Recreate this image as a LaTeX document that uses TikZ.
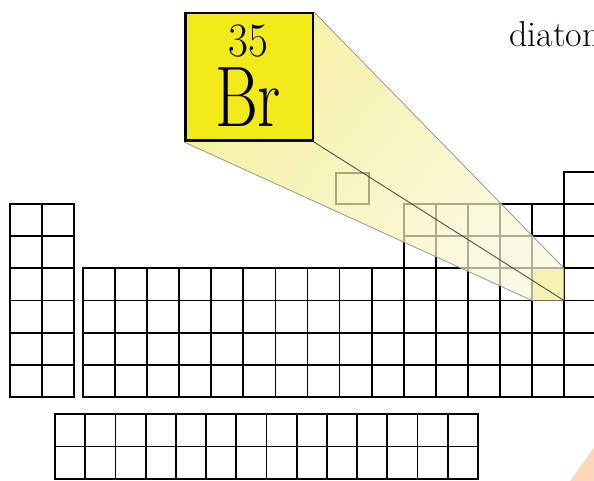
\documentclass[tikz,border=0pt]{standalone}
\usepackage{fontspec}
\usepackage{tikz}
\definecolor{bryellow}{RGB}{243,234,28}
\definecolor{beamnear}{RGB}{241,234,120}
\definecolor{beamfar}{RGB}{248,247,217}
\definecolor{cellyellow}{RGB}{248,233,80}
\definecolor{peach}{RGB}{251,214,186}

\begin{document}
\begin{tikzpicture}[x=1pt, y=-1pt,
  cell/.style={draw=black, line width=1.8pt},
  beamedge/.style={draw=black!45, line width=0.7pt},
  fold/.style={draw=black!75, line width=0.8pt}]
\clip (0,0) rectangle (594,481);
\fill[peach] (570,481) -- (600,439) -- (600,481) -- cycle;
\node[fill=cellyellow, minimum width=32.07pt, minimum height=32.17pt, inner sep=0pt, outer sep=0pt] (br) at (548.05,284.43) {};
\foreach \i in {0,1}
  \foreach \j in {0,...,5}
    \draw[cell] ({10+\i*32.07},{204+\j*32.17}) rectangle ++(32.07,32.17);
\foreach \i in {0,...,9}
  \foreach \j in {2,...,5}
    \draw[cell] ({83+\i*32.07},{204+\j*32.17}) rectangle ++(32.07,32.17);
\foreach \i in {10,...,14}
  \foreach \j in {0,...,5}
    \draw[cell] ({83+\i*32.07},{204+\j*32.17}) rectangle ++(32.07,32.17);
\foreach \j in {-1,...,5}
  \draw[cell] ({83+15*32.07},{204+\j*32.17}) rectangle ++(32.07,32.17);
\foreach \i in {0,...,13}
  \foreach \j in {0,1}
    \draw[cell] ({55+\i*30.2},{414+\j*32.5}) rectangle ++(30.2,32.5);
\draw[cell] (336,173) rectangle (369,204);
\node[draw, line width=2.5pt, fill=bryellow, minimum size=127.5pt, inner sep=0pt] (brbox) at (249,77) {};
\shade[left color=beamnear, right color=beamfar, shading angle=50, fill opacity=0.7]
  (brbox.north east) -- (br.north east) -- (br.south east) -- (br.south west)
  -- (brbox.south west) -- (brbox.south east) -- cycle;
\draw[beamedge] (brbox.north east) -- (br.north east);
\draw[beamedge] (brbox.south west) -- (br.south west);
\draw[fold] (brbox.south east) -- (br.south east);
\node[font=\fontsize{48}{48}\selectfont, anchor=base, inner sep=0pt] (brnum) at (248,57) {\scalebox{0.9}[1]{35}};
\node[font=\fontsize{86}{86}\selectfont, anchor=base, inner sep=0pt] (brsym) at (248,127) {\scalebox{0.76}[1]{Br}};
\node[font=\fontsize{36}{36}\selectfont, anchor=base west, inner sep=0pt] (caption) at (509,47) {diatomic};
\end{tikzpicture}
\end{document}
